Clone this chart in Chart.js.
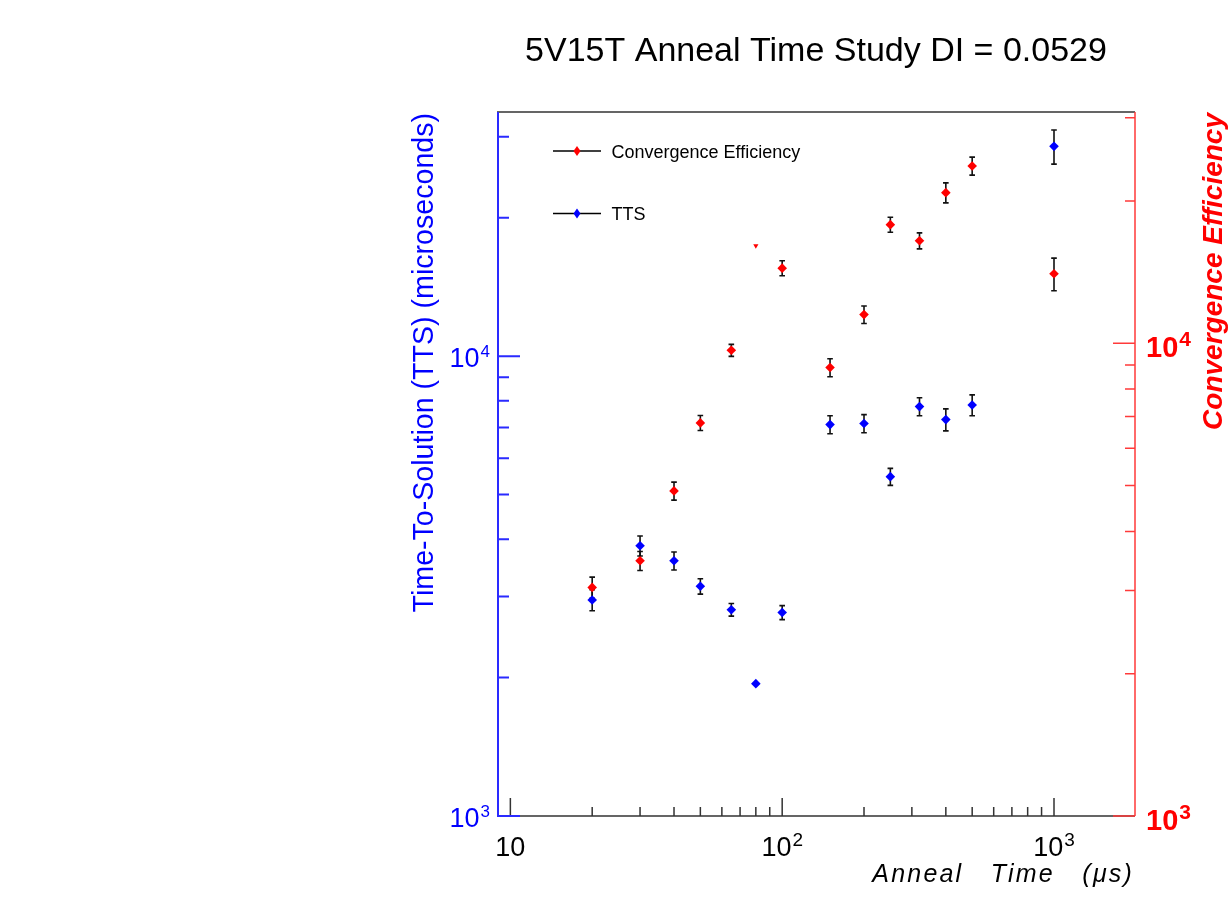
<!DOCTYPE html>
<html>
<head>
<meta charset="utf-8">
<script src="https://cdn.jsdelivr.net/npm/chart.js@4.4.1/dist/chart.umd.min.js"></script>
<style>
html, body { margin: 0; padding: 0; background: #fff; }
canvas { display: block; }
</style>
</head>
<body>
<canvas id="chart" width="1229" height="914"></canvas>
<script>
const FONT = '"Liberation Sans", Arial, Helvetica, sans-serif';

// anneal time (microseconds)
const annealTimes = [20, 30, 40, 50, 65, 80, 100, 150, 200, 250, 320, 400, 500, 1000];
// time-to-solution, left axis
const ttsValues = [2950, 3870, 3590, 3160, 2810, 1940, 2770, 7100, 7140, 5470, 7770, 7280, 7830, 28600];
const ttsErrors = [155, 193, 162, 122, 89, 0, 97, 320, 322, 233, 350, 401, 411, 2435];
// convergence efficiency, right axis
const ceValues = [3045, 3466, 4872, 6785, 9664, 16080, 14420, 8884, 11500, 17820, 16480, 20830, 23720, 14030];
const ceErrors = [156, 160, 213, 248, 282, 0, 526, 389, 487, 651, 642, 1014, 1039, 1113];

// axis ticks
const xMajorTicks = [10, 100, 1000];
const xMinorTicks = [20, 30, 40, 50, 60, 70, 80, 90, 200, 300, 400, 500, 600, 700, 800, 900];
const xTickLabels = [["10", ""], ["10", "2"], ["10", "3"]];
const yMajorTicks = [1000, 10000];
const yMinorTicks = [2000, 3000, 4000, 5000, 6000, 7000, 8000, 9000, 20000, 30000];
const yTickLabels = [["10", "3"], ["10", "4"]];

const BLUE = "#0000ff";
const RED = "#ff0000";

function errorBars(chart) {
    const ctx = chart.ctx;
    const errs = [ceErrors, ttsErrors];
    ctx.save();
    ctx.strokeStyle = "#111";
    ctx.lineWidth = 1.6;
    chart.data.datasets.forEach((ds, i) => {
        const meta = chart.getDatasetMeta(i);
        const sc = chart.scales[ds.yAxisID];
        meta.data.forEach((pt, j) => {
            const e = errs[i][j];
            if (!e) return;
            const v = ds.data[j].y;
            const top = sc.getPixelForValue(v + e);
            const bot = sc.getPixelForValue(v - e);
            ctx.beginPath();
            ctx.moveTo(pt.x, top); ctx.lineTo(pt.x, bot);
            ctx.moveTo(pt.x - 2.8, top); ctx.lineTo(pt.x + 2.8, top);
            ctx.moveTo(pt.x - 2.8, bot); ctx.lineTo(pt.x + 2.8, bot);
            ctx.stroke();
        });
    });
    ctx.restore();
}

function drawAxes(chart) {
    const ctx = chart.ctx;
    const a = chart.chartArea;
    const xs = chart.scales.x, ys = chart.scales.y, y2 = chart.scales.y2;
    ctx.save();

    // top frame + bottom axis
    ctx.strokeStyle = "#333";
    ctx.lineWidth = 1.5;
    ctx.beginPath();
    ctx.moveTo(a.left, a.top); ctx.lineTo(a.right, a.top);
    ctx.moveTo(a.left, a.bottom); ctx.lineTo(a.right, a.bottom);
    ctx.stroke();

    // x ticks
    ctx.beginPath();
    xMajorTicks.forEach(t => { const p = xs.getPixelForValue(t); ctx.moveTo(p, a.bottom); ctx.lineTo(p, a.bottom - 18); });
    xMinorTicks.forEach(t => { const p = xs.getPixelForValue(t); ctx.moveTo(p, a.bottom); ctx.lineTo(p, a.bottom - 9); });
    ctx.stroke();

    // left axis
    ctx.strokeStyle = "#2a2aff";
    ctx.lineWidth = 2;
    ctx.beginPath();
    ctx.moveTo(a.left + 1, a.top); ctx.lineTo(a.left + 1, a.bottom);
    yMajorTicks.forEach(t => { const p = ys.getPixelForValue(t); ctx.moveTo(a.left, p); ctx.lineTo(a.left + 23, p); });
    yMinorTicks.forEach(t => { const p = ys.getPixelForValue(t); ctx.moveTo(a.left, p); ctx.lineTo(a.left + 12, p); });
    ctx.stroke();

    // right axis
    ctx.strokeStyle = "#ff3a3a";
    ctx.lineWidth = 1.5;
    ctx.beginPath();
    ctx.moveTo(a.right, a.top); ctx.lineTo(a.right, a.bottom);
    yMajorTicks.forEach(t => { const p = y2.getPixelForValue(t); ctx.moveTo(a.right, p); ctx.lineTo(a.right - 22, p); });
    yMinorTicks.forEach(t => { const p = y2.getPixelForValue(t); ctx.moveTo(a.right, p); ctx.lineTo(a.right - 10, p); });
    ctx.stroke();

    // x tick labels
    ctx.fillStyle = "#000";
    ctx.textBaseline = "alphabetic";
    ctx.textAlign = "left";
    xMajorTicks.forEach((t, i) => {
        const [b, e] = xTickLabels[i];
        ctx.font = `27px ${FONT}`;
        const wb = ctx.measureText(b).width;
        ctx.font = `19px ${FONT}`;
        const we = e ? ctx.measureText(e).width + 1 : 0;
        const x0 = xs.getPixelForValue(t) - (wb + we) / 2;
        ctx.font = `27px ${FONT}`;
        ctx.fillText(b, x0, a.bottom + 40);
        if (e) { ctx.font = `19px ${FONT}`; ctx.fillText(e, x0 + wb + 1, a.bottom + 30); }
    });

    // left tick labels
    ctx.fillStyle = BLUE;
    yMajorTicks.forEach((t, i) => {
        const [b, e] = yTickLabels[i];
        const p = ys.getPixelForValue(t);
        ctx.font = `27px ${FONT}`;
        ctx.textAlign = "right";
        ctx.fillText(b, 479.5, p + 11);
        ctx.font = `17px ${FONT}`;
        ctx.textAlign = "left";
        ctx.fillText(e, 480.5, p + 1);
    });

    // right tick labels
    ctx.fillStyle = RED;
    ctx.textAlign = "left";
    yMajorTicks.forEach((t, i) => {
        const [b, e] = yTickLabels[i];
        const p = y2.getPixelForValue(t);
        ctx.font = `bold 29px ${FONT}`;
        ctx.fillText(b, 1146, p + 14);
        const wb = ctx.measureText(b).width;
        ctx.font = `bold 21px ${FONT}`;
        ctx.fillText(e, 1146 + wb + 1, p + 3);
    });

    // axis titles
    ctx.fillStyle = "#000";
    ctx.font = `italic 25px ${FONT}`;
    ctx.textAlign = "right";
    ctx.letterSpacing = "2.2px";
    ctx.fillText("Anneal   Time   (\u03bcs)", a.right - 1, 882);
    ctx.letterSpacing = "0px";

    ctx.save();
    ctx.translate(433, a.top + 1);
    ctx.rotate(-Math.PI / 2);
    ctx.fillStyle = BLUE;
    ctx.font = `28.6px ${FONT}`;
    ctx.textAlign = "right";
    ctx.fillText("Time-To-Solution (TTS) (microseconds)", 0, 0);
    ctx.restore();

    ctx.save();
    ctx.translate(1222, a.top + 1);
    ctx.rotate(-Math.PI / 2);
    ctx.fillStyle = RED;
    ctx.font = `italic bold 28px ${FONT}`;
    ctx.textAlign = "right";
    ctx.fillText("Convergence Efficiency", 0, 0);
    ctx.restore();

    // legend
    const entries = [[chart.data.datasets[0], 151], [chart.data.datasets[1], 213.5]];
    entries.forEach(([ds, y]) => {
        ctx.strokeStyle = "#000";
        ctx.lineWidth = 1.5;
        ctx.beginPath();
        ctx.moveTo(553, y); ctx.lineTo(601, y);
        ctx.stroke();
        ctx.fillStyle = ds.backgroundColor;
        ctx.beginPath();
        ctx.moveTo(577, y - 5); ctx.lineTo(580.5, y); ctx.lineTo(577, y + 5); ctx.lineTo(573.5, y);
        ctx.closePath();
        ctx.fill();
        ctx.fillStyle = "#000";
        ctx.font = `18px ${FONT}`;
        ctx.textAlign = "left";
        ctx.fillText(ds.label, 611.5, y + 6.5);
    });

    ctx.restore();
}

const rootStyle = {
    id: "rootStyle",
    beforeDatasetsDraw: errorBars,
    afterDatasetsDraw: drawAxes
};

const cePointStyle = annealTimes.map((t, i) => ceErrors[i] ? "rectRot" : "triangle");
const ceRotation = annealTimes.map((t, i) => ceErrors[i] ? 0 : 180);
const ceRadius = annealTimes.map((t, i) => ceErrors[i] ? 4.8 : 3);

new Chart(document.getElementById("chart"), {
    type: "scatter",
    data: {
        datasets: [
            {
                label: "Convergence Efficiency",
                data: annealTimes.map((t, i) => ({ x: t, y: ceValues[i] })),
                yAxisID: "y2",
                backgroundColor: RED,
                borderColor: RED,
                borderWidth: 0,
                pointStyle: cePointStyle,
                pointRotation: ceRotation,
                pointRadius: ceRadius
            },
            {
                label: "TTS",
                data: annealTimes.map((t, i) => ({ x: t, y: ttsValues[i] })),
                yAxisID: "y",
                backgroundColor: BLUE,
                borderColor: BLUE,
                borderWidth: 0,
                pointStyle: "rectRot",
                pointRadius: 4.8
            }
        ]
    },
    options: {
        responsive: false,
        animation: false,
        devicePixelRatio: 1,
        layout: { padding: 0 },
        plugins: {
            legend: { display: false },
            tooltip: { enabled: false },
            title: {
                display: true,
                text: "5V15T Anneal Time Study DI = 0.0529",
                color: "#000",
                font: { family: FONT, size: 34, weight: "normal", lineHeight: 1.2 },
                padding: { top: 31.6, bottom: 39.6 },
                fullSize: false
            }
        },
        scales: {
            x: {
                type: "logarithmic", position: "bottom", min: 8.93, max: 1986,
                grid: { display: false }, border: { display: false }, ticks: { display: false },
                afterFit: s => { s.height = 98; }
            },
            y: {
                type: "logarithmic", position: "left", min: 1000, max: 33970,
                grid: { display: false }, border: { display: false }, ticks: { display: false },
                afterFit: s => { s.width = 497; }
            },
            y2: {
                type: "logarithmic", position: "right", min: 1000, max: 30850,
                grid: { display: false }, border: { display: false }, ticks: { display: false },
                afterFit: s => { s.width = 94; }
            }
        }
    },
    plugins: [rootStyle]
});
</script>
</body>
</html>
